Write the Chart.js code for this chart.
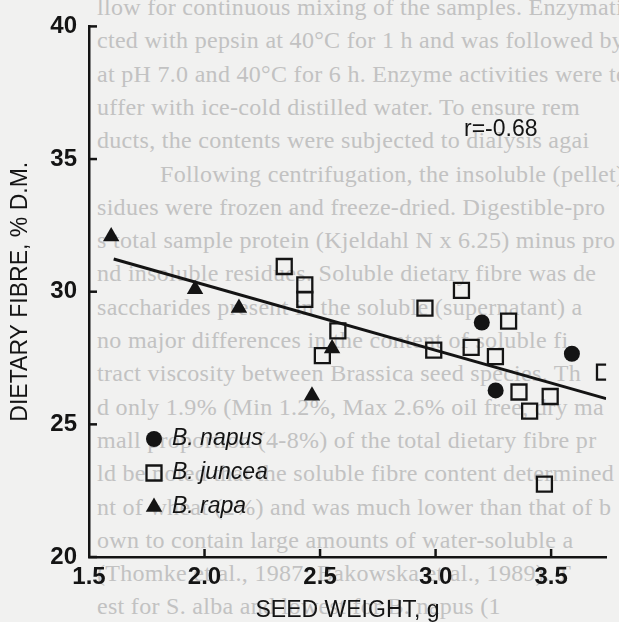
<!DOCTYPE html>
<html>
<head>
<meta charset="utf-8">
<script src="https://cdn.jsdelivr.net/npm/chart.js@4.4.0/dist/chart.umd.min.js"></script>
<style>
  html, body { margin: 0; padding: 0; background: #f1f1f0; }
  #wrap { position: relative; width: 619px; height: 622px; overflow: hidden; }
  #page { position: absolute; left: 0; top: 0; width: 619px; height: 622px;
          font-family: "Liberation Serif", "Times New Roman", serif; font-size: 24px;
          letter-spacing: 0.3px; color: #c2c2c2; white-space: pre; }
  #page div { position: absolute; left: 97px; height: 33px; line-height: 33px; }
  canvas { position: absolute; left: 0; top: 0; }
</style>
</head>
<body>
<div id="wrap">
  <div id="page"></div>
  <canvas id="chart" width="619" height="622"></canvas>
</div>
<script>
// valeurs (poids des graines en g, fibres en % M.S.)
const napusX = [3.20, 3.59, 3.26];
const napusY = [28.84, 27.66, 26.28];

const junceaX = [2.345, 2.434, 2.434, 2.577, 2.510, 2.954, 2.992, 3.112,
                 3.154, 3.259, 3.316, 3.361, 3.407, 3.496, 3.471, 3.731];
const junceaY = [30.95, 30.26, 29.71, 28.52, 27.59, 29.38, 27.80, 30.05,
                 27.90, 27.55, 28.89, 26.22, 25.50, 26.05, 22.75, 26.97];

const rapaX = [1.596, 1.959, 2.149, 2.552, 2.465];
const rapaY = [32.08, 30.09, 29.39, 27.86, 26.08];

// droite de régression
const fitX = [1.607, 3.738];
const fitY = [31.23, 25.97];

const xTicks = [1.5, 2.0, 2.5, 3.0, 3.5];
const yTicks = [20, 25, 30, 35, 40];
const especes = ['B. napus', 'B. juncea', 'B. rapa'];
const rLabel = 'r=-0.68';

// texte de la page visible en transparence derrière la figure
const pageLines = [
  'llow for continuous mixing of the samples. Enzymatic',
  'cted with pepsin at 40°C for 1 h and was followed by',
  'at pH 7.0 and 40°C for 6 h. Enzyme activities were te',
  'uffer with ice-cold distilled water. To ensure rem',
  'ducts, the contents were subjected to dialysis agai',
  '          Following centrifugation, the insoluble (pellet) a',
  'sidues were frozen and freeze-dried. Digestible-pro',
  's total sample protein (Kjeldahl N x 6.25) minus pro',
  'nd insoluble residues. Soluble dietary fibre was de',
  'saccharides present in the soluble (supernatant) a',
  'no major differences in the content of soluble fi',
  'tract viscosity between Brassica seed species. Th',
  'd only 1.9% (Min 1.2%, Max 2.6% oil free, dry ma',
  'mall proportion (4-8%) of the total dietary fibre pr',
  'ld be noted that the soluble fibre content determined',
  'nt of wheat (2%) and was much lower than that of b',
  'own to contain large amounts of water-soluble a',
  '(Thomke et al., 1987; Bakowska et al., 1989). T',
  'est for S. alba and lowest for B. napus (1'
];

const page = document.getElementById('page');
pageLines.forEach((txt, i) => {
  const d = document.createElement('div');
  d.textContent = txt;
  d.style.top = (-9 + i * 33.3) + 'px';
  page.appendChild(d);
});

function toPoints(xs, ys) {
  return xs.map((x, i) => ({ x: x, y: ys[i] }));
}

const ink = '#141414';
Chart.defaults.font.family = '"Liberation Sans", Arial, sans-serif';
Chart.defaults.color = ink;

// petits traits vers l'intérieur, légende et coefficient r
const decor = {
  id: 'decor',
  afterDraw(chart) {
    const ctx = chart.ctx;
    const sx = chart.scales.x;
    const sy = chart.scales.y;
    ctx.save();
    ctx.strokeStyle = ink;
    ctx.lineWidth = 2.5;
    yTicks.forEach(v => {
      const py = sy.getPixelForValue(v);
      ctx.beginPath();
      ctx.moveTo(sx.left, py);
      ctx.lineTo(sx.left + 8, py);
      ctx.stroke();
    });
    xTicks.slice(1).forEach(v => {
      const px = sx.getPixelForValue(v);
      ctx.beginPath();
      ctx.moveTo(px, sy.bottom);
      ctx.lineTo(px, sy.bottom - 8);
      ctx.stroke();
    });

    ctx.fillStyle = ink;
    ctx.textBaseline = 'middle';
    ctx.font = '23px "Liberation Sans", Arial, sans-serif';
    ctx.fillText(rLabel, 464, 130);

    // légende
    ctx.font = 'italic 23px "Liberation Sans", Arial, sans-serif';
    especes.forEach((nom, i) => {
      const ds = chart.data.datasets[i + 1];
      const py = 439 + i * 34;
      ctx.save();
      ctx.fillStyle = ds.backgroundColor;
      ctx.strokeStyle = ds.borderColor;
      ctx.lineWidth = ds.borderWidth;
      Chart.helpers.drawPoint(ctx, {
        pointStyle: ds.pointStyle,
        radius: ds.pointRadius,
        borderWidth: ds.borderWidth,
        rotation: 0
      }, 154, py);
      ctx.restore();
      ctx.fillStyle = ink;
      ctx.fillText(nom, 172, py);
    });
    ctx.restore();
  }
};

new Chart(document.getElementById('chart'), {
  type: 'scatter',
  data: {
    datasets: [
      {
        label: 'regression',
        data: toPoints(fitX, fitY),
        showLine: true,
        borderColor: ink,
        borderWidth: 3,
        pointRadius: 0
      },
      {
        label: especes[0],
        data: toPoints(napusX, napusY),
        pointStyle: 'circle',
        pointRadius: 8,
        backgroundColor: ink,
        borderColor: ink,
        borderWidth: 0
      },
      {
        label: especes[1],
        data: toPoints(junceaX, junceaY),
        pointStyle: 'rect',
        pointRadius: 10.6,
        backgroundColor: 'rgba(0,0,0,0)',
        borderColor: ink,
        borderWidth: 2.3
      },
      {
        label: especes[2],
        data: toPoints(rapaX, rapaY),
        pointStyle: 'triangle',
        pointRadius: 9.5,
        backgroundColor: ink,
        borderColor: ink,
        borderWidth: 0
      }
    ]
  },
  options: {
    responsive: false,
    animation: false,
    layout: { padding: { top: 22, right: 0, bottom: 0, left: 0 } },
    plugins: {
      legend: { display: false },
      tooltip: { enabled: false }
    },
    elements: { point: { hoverRadius: 8 } },
    scales: {
      x: {
        type: 'linear',
        min: 1.5,
        max: 3.738,
        afterFit: s => { s.height = 65; },
        afterBuildTicks: s => { s.ticks = xTicks.map(v => ({ value: v })); },
        grid: { display: false, drawTicks: false },
        border: { display: true, color: ink, width: 2.5 },
        ticks: {
          padding: 6,
          maxRotation: 0,
          font: { size: 24, weight: 'bold' },
          callback: v => v.toFixed(1)
        },
        title: {
          display: true,
          text: 'SEED WEIGHT, g',
          font: { size: 23, lineHeight: 1 },
          padding: { top: 0, bottom: 0 }
        }
      },
      y: {
        min: 20,
        max: 40,
        afterFit: s => { s.width = 89; },
        afterBuildTicks: s => { s.ticks = yTicks.map(v => ({ value: v })); },
        grid: { display: false, drawTicks: false },
        border: { display: true, color: ink, width: 2.5 },
        ticks: {
          padding: 12,
          font: { size: 24, weight: 'bold' }
        },
        title: {
          display: true,
          text: 'DIETARY FIBRE, % D.M.',
          font: { size: 23 },
          padding: { top: 7, bottom: 0 }
        }
      }
    }
  },
  plugins: [decor]
});
</script>
</body>
</html>
